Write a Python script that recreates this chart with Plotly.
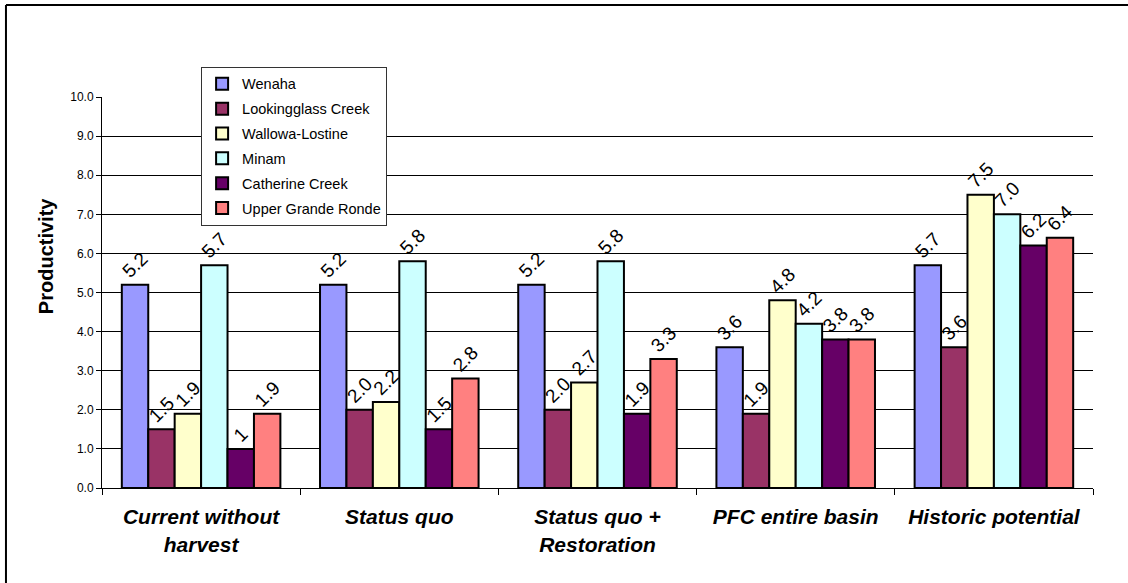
import plotly.graph_objects as go

# Scenario categories along the x axis
scenarios = [
    "Current without<br>harvest",
    "Status quo",
    "Status quo +<br>Restoration",
    "PFC entire basin",
    "Historic potential",
]

# Productivity by population (one list per population, in scenario order)
wenaha = [5.2, 5.2, 5.2, 3.6, 5.7]
lookingglass = [1.5, 2.0, 2.0, 1.9, 3.6]
wallowa_lostine = [1.9, 2.2, 2.7, 4.8, 7.5]
minam = [5.7, 5.8, 5.8, 4.2, 7.0]
catherine = [1.0, 1.5, 1.9, 3.8, 6.2]
upper_grande_ronde = [1.9, 2.8, 3.3, 3.8, 6.4]

# Printed value labels
wenaha_lbl = ["5.2", "5.2", "5.2", "3.6", "5.7"]
lookingglass_lbl = ["1.5", "2.0", "2.0", "1.9", "3.6"]
wallowa_lostine_lbl = ["1.9", "2.2", "2.7", "4.8", "7.5"]
minam_lbl = ["5.7", "5.8", "5.8", "4.2", "7.0"]
catherine_lbl = ["1", "1.5", "1.9", "3.8", "6.2"]
upper_grande_ronde_lbl = ["1.9", "2.8", "3.3", "3.8", "6.4"]

y_ticks = [0, 1, 2, 3, 4, 5, 6, 7, 8, 9, 10]

series = [
    ("Wenaha", wenaha, wenaha_lbl, "#9999FF"),
    ("Lookingglass Creek", lookingglass, lookingglass_lbl, "#993366"),
    ("Wallowa-Lostine", wallowa_lostine, wallowa_lostine_lbl, "#FFFFCC"),
    ("Minam", minam, minam_lbl, "#CCFFFF"),
    ("Catherine Creek", catherine, catherine_lbl, "#660066"),
    ("Upper Grande Ronde", upper_grande_ronde, upper_grande_ronde_lbl, "#FF8080"),
]

FONT = "Arial, Liberation Sans, sans-serif"

fig = go.Figure()
for name, vals, lbls, color in series:
    fig.add_trace(go.Bar(
        name=name,
        x=scenarios,
        y=vals,
        text=lbls,
        textposition="outside",
        textangle=-45,
        constraintext="none",
        cliponaxis=False,
        textfont=dict(family=FONT, size=19, color="black"),
        marker=dict(color=color, line=dict(color="black", width=2)),
        legendgroup=name,
    ))

fig.update_layout(
    width=1128,
    height=583,
    margin=dict(l=102, r=35, t=97, b=95),
    paper_bgcolor="white",
    plot_bgcolor="white",
    barmode="group",
    bargap=0.2,
    bargroupgap=0,
    font=dict(family=FONT, color="black"),
    showlegend=True,
    legend=dict(
        x=0.100, y=1.077, xanchor="left", yanchor="top",
        bgcolor="white", bordercolor="#333333", borderwidth=1,
        font=dict(family=FONT, size=14.5, color="black"),
        tracegroupgap=3,
        itemwidth=30,
    ),
    xaxis=dict(
        showline=True, linecolor="black", linewidth=1,
        ticks="outside", tickson="boundaries", ticklen=6, tickcolor="black",
        tickfont=dict(family=FONT, size=21, weight="bold", style="italic", color="black"),
        ticklabelstandoff=10,
        showgrid=False,
    ),
    yaxis=dict(
        range=[0, 10],
        tickvals=y_ticks,
        tickformat=".1f",
        showline=True, linecolor="black", linewidth=1,
        ticks="outside", ticklen=5, tickcolor="black",
        tickfont=dict(family=FONT, size=12, color="black"),
        showgrid=True, gridcolor="black", gridwidth=1,
        zeroline=False,
    ),
    annotations=[
        dict(text="<b>Productivity</b>", xref="paper", yref="paper",
             x=-0.0565, y=0.593, xanchor="center", yanchor="middle",
             textangle=-90, showarrow=False,
             font=dict(family=FONT, size=20, color="black")),
    ],
    shapes=[
        # outer chart frame: top and left edges
        dict(type="line", xref="paper", yref="paper",
             x0=-0.0969, x1=1.05, y0=1.235, y1=1.235,
             line=dict(color="black", width=2), layer="above"),
        dict(type="line", xref="paper", yref="paper",
             x0=-0.0969, x1=-0.0969, y0=-0.3, y1=1.235,
             line=dict(color="black", width=2), layer="above"),
    ],
)

fig.write_html("out.html")
